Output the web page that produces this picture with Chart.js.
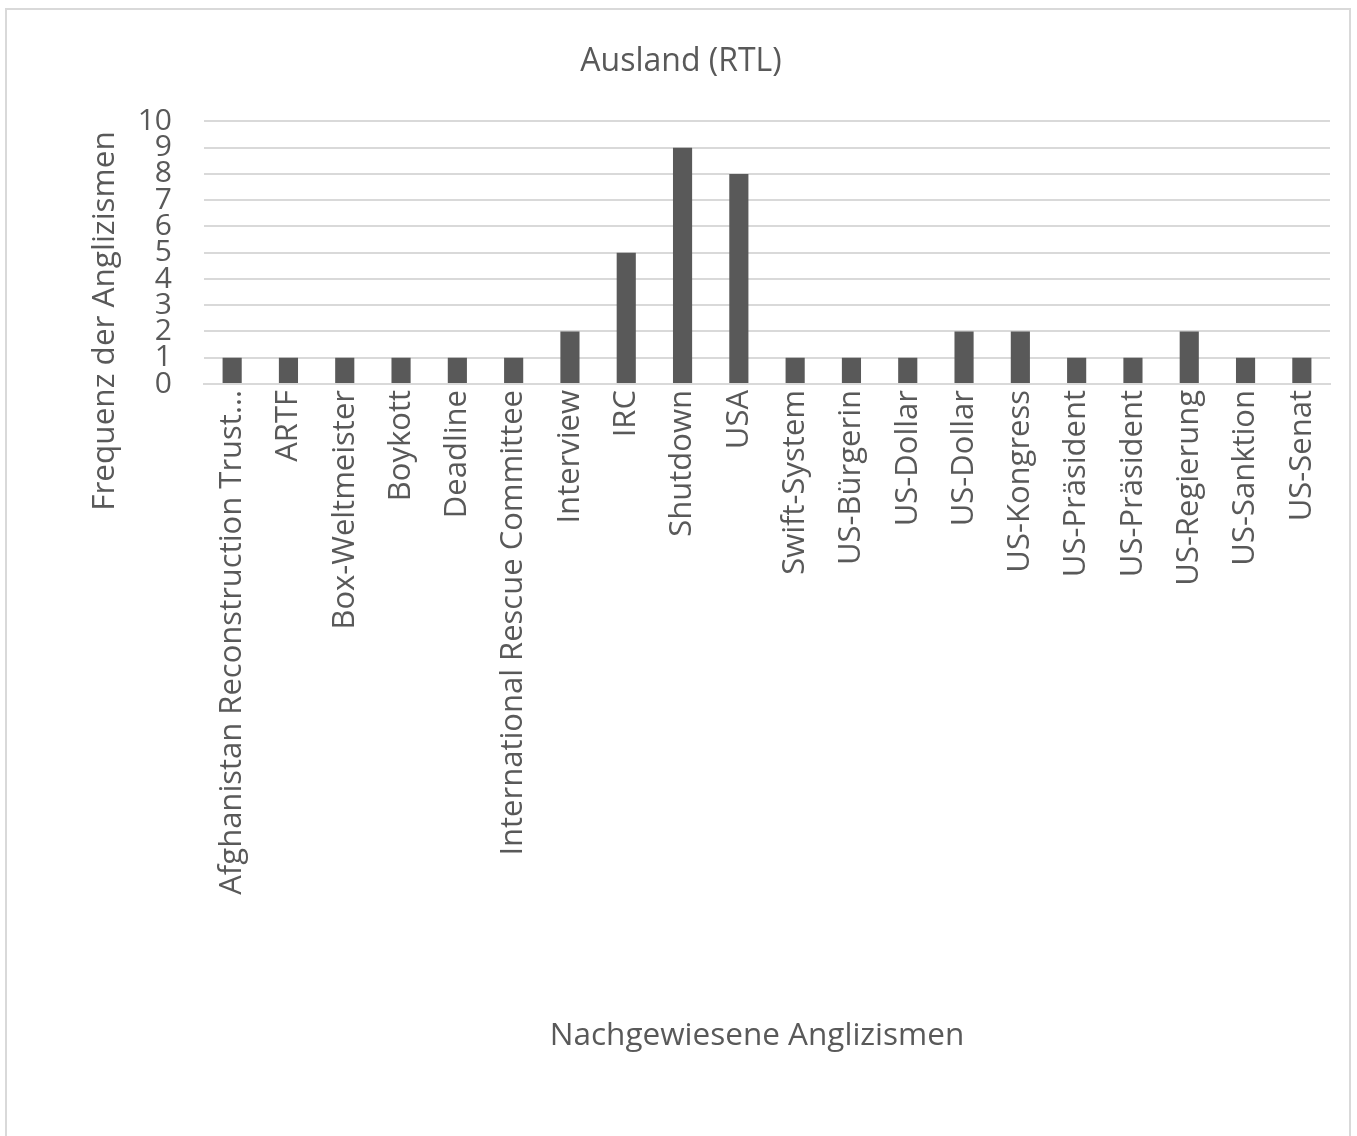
<!DOCTYPE html>
<html>
<head>
<meta charset="utf-8">
<script src="https://cdn.jsdelivr.net/npm/chart.js@4/dist/chart.umd.min.js"></script>
<style>
  html, body { margin: 0; padding: 0; background: #fff; overflow: hidden; }
  #frame {
    position: absolute; left: 5px; top: 8px; width: 1346px; height: 1200px;
    border: 2px solid #d9d9d9; box-sizing: border-box;
  }
  #wrap { position: absolute; left: 0; top: 0; width: 1357px; height: 1136px; }
</style>
</head>
<body>
<div id="frame"></div>
<div id="wrap"><canvas id="c" width="1357" height="1136"></canvas></div>
<script>
const chartTitle = 'Ausland (RTL)';
const xAxisTitle = 'Nachgewiesene Anglizismen';
const yAxisTitle = 'Frequenz der Anglizismen';

const categories = [
  'Afghanistan Reconstruction Trust…', 'ARTF', 'Box-Weltmeister', 'Boykott', 'Deadline',
  'International Rescue Committee', 'Interview', 'IRC', 'Shutdown', 'USA',
  'Swift-System', 'US-Bürgerin', 'US-Dollar', 'US-Dollar', 'US-Kongress',
  'US-Präsident', 'US-Präsident', 'US-Regierung', 'US-Sanktion', 'US-Senat'
];
const frequencies = [1, 1, 1, 1, 1, 1, 2, 5, 9, 8, 1, 1, 1, 2, 2, 1, 1, 2, 1, 1];
const yTickValues = [0, 1, 2, 3, 4, 5, 6, 7, 8, 9, 10];

const FONT = '"Open Sans", "Segoe UI", sans-serif';
const TEXT = '#595959';
const GRID = '#d9d9d9';
const PAD_LEFT = 32;

// Axis titles drawn at fixed spots around the plot
const axisTitles = {
  id: 'axisTitles',
  afterDraw(chart) {
    const ctx = chart.ctx;
    ctx.save();
    ctx.fillStyle = TEXT;
    ctx.font = '31.5px ' + FONT;
    ctx.textAlign = 'center';
    ctx.textBaseline = 'middle';
    ctx.fillText(xAxisTitle, 757, 1036);
    ctx.translate(105, 321);
    ctx.rotate(-Math.PI / 2);
    ctx.fillText(yAxisTitle, 0, 0);
    ctx.restore();
  }
};

new Chart(document.getElementById('c'), {
  type: 'bar',
  data: {
    labels: categories,
    datasets: [{
      data: frequencies,
      backgroundColor: '#595959',
      borderWidth: 0,
      barPercentage: 0.34,
      categoryPercentage: 1
    }]
  },
  options: {
    responsive: false,
    animation: false,
    layout: { padding: { left: PAD_LEFT, right: 27, top: 0, bottom: 0 } },
    plugins: {
      legend: { display: false },
      tooltip: { enabled: false },
      title: {
        display: true,
        text: chartTitle,
        color: TEXT,
        font: { family: FONT, size: 32, weight: 'normal' },
        padding: { top: 43, bottom: 40 }
      }
    },
    scales: {
      x: {
        grid: { display: false, drawTicks: false },
        border: { display: true, color: GRID, width: 2 },
        ticks: {
          color: TEXT,
          font: { family: FONT, size: 31 },
          minRotation: 90,
          maxRotation: 90,
          autoSkip: false,
          padding: 6
        },
        afterFit(scale) { scale.height = 752; }
      },
      y: {
        min: 0,
        max: 10,
        grid: { color: GRID, lineWidth: 2, drawTicks: false },
        border: { display: false },
        ticks: {
          stepSize: 1,
          autoSkip: false,
          color: TEXT,
          font: { family: FONT, size: 30 },
          padding: 32,
          callback: (v) => yTickValues.includes(v) ? String(v) : ''
        },
        afterFit(scale) { scale.width = 204 - PAD_LEFT; }
      }
    }
  },
  plugins: [axisTitles]
});
</script>
</body>
</html>
